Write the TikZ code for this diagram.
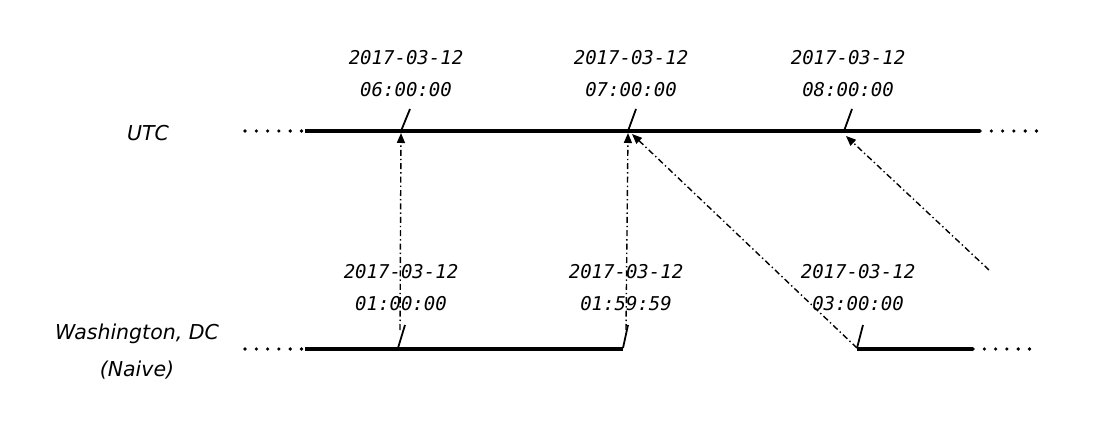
\documentclass[tikz,border=0pt]{standalone}
\usepackage{fontspec}
\newfontfamily\datefont{DejaVu Sans Mono}
\newfontfamily\handfont{DejaVu Sans}
\usetikzlibrary{arrows.meta}
\begin{document}
\begin{tikzpicture}[x=1pt,y=-1pt,
  timeline/.style={line width=3.2pt},
  dotline/.style={line width=3.6pt,line cap=round,dash pattern=on 0pt off 11.3pt},
  tickmark/.style={line width=1.8pt},
  maparrow/.style={line width=1.4pt,dash pattern=on 6pt off 3pt on 1.4pt off 3pt,-{Triangle[length=10pt,width=8pt]}},
  datelbl/.style={font=\datefont\itshape\fontsize{19}{22}\selectfont,align=center,inner sep=0pt},
  zonelbl/.style={font=\handfont\itshape\fontsize{20.5}{37}\selectfont,align=center,inner sep=0pt}]
\fill[white] (0,0) rectangle (1118,435);
% zone labels
\node[zonelbl] (utc) at (148,133) {UTC};
\node[zonelbl,anchor=north] (wdc) at (137,324) {Washington, DC\\(Naive)};
% UTC line
\coordinate (ul0) at (245,131);
\coordinate (ul1) at (305,131);
\coordinate (ul2) at (980,131);
\coordinate (ul3) at (1040,131);
\draw[dotline] (ul0) -- (ul1);
\draw[timeline] (ul1) -- (ul2);
\draw[dotline] (ul2) -- (ul3);
% Washington line
\coordinate (wl0) at (245,349);
\coordinate (wl1) at (305,349);
\coordinate (wl2) at (623,349);
\coordinate (wl3) at (857,349);
\coordinate (wl4) at (973,349);
\coordinate (wl5) at (1040,349);
\draw[dotline] (wl0) -- (wl1);
\draw[timeline] (wl1) -- (wl2);
\draw[timeline] (wl3) -- (wl4);
\draw[dotline] (wl4) -- (wl5);
% UTC ticks
\coordinate (u6) at (401,131);
\coordinate (u7) at (628,131);
\coordinate (u8) at (844,131);
\draw[tickmark] (u6) -- ++(9,-22);
\draw[tickmark] (u7) -- ++(8,-22);
\draw[tickmark] (u8) -- ++(8,-22);
% Washington ticks
\coordinate (w1) at (398,348);
\coordinate (w159) at (623,348);
\coordinate (w3) at (857,348);
\draw[tickmark] (w1) -- ++(7,-23);
\draw[tickmark] (w159) -- ++(5,-23);
\draw[tickmark] (w3) -- ++(6,-23);
% UTC labels
\node[datelbl] (lu6) at (406,74) {2017-03-12\\[10pt]06:00:00};
\node[datelbl] (lu7) at (631,74) {2017-03-12\\[10pt]07:00:00};
\node[datelbl] (lu8) at (848,74) {2017-03-12\\[10pt]08:00:00};
% Washington labels
\node[datelbl] (lw1) at (401,288) {2017-03-12\\[10pt]01:00:00};
\node[datelbl] (lw159) at (626,288) {2017-03-12\\[10pt]01:59:59};
\node[datelbl] (lw3) at (858,288) {2017-03-12\\[10pt]03:00:00};
% mapping arrows
\coordinate (a1s) at (400,330);
\coordinate (a1e) at (401,133);
\coordinate (a2s) at (626,330);
\coordinate (a2e) at (628,133);
\coordinate (a3e) at (632,134);
\coordinate (a4s) at (989,270);
\coordinate (a4e) at (846,136);
\draw[maparrow] (a1s) -- (a1e);
\draw[maparrow] (a2s) -- (a2e);
\draw[maparrow] (w3) -- (a3e);
\draw[maparrow] (a4s) -- (a4e);
\end{tikzpicture}
\end{document}
